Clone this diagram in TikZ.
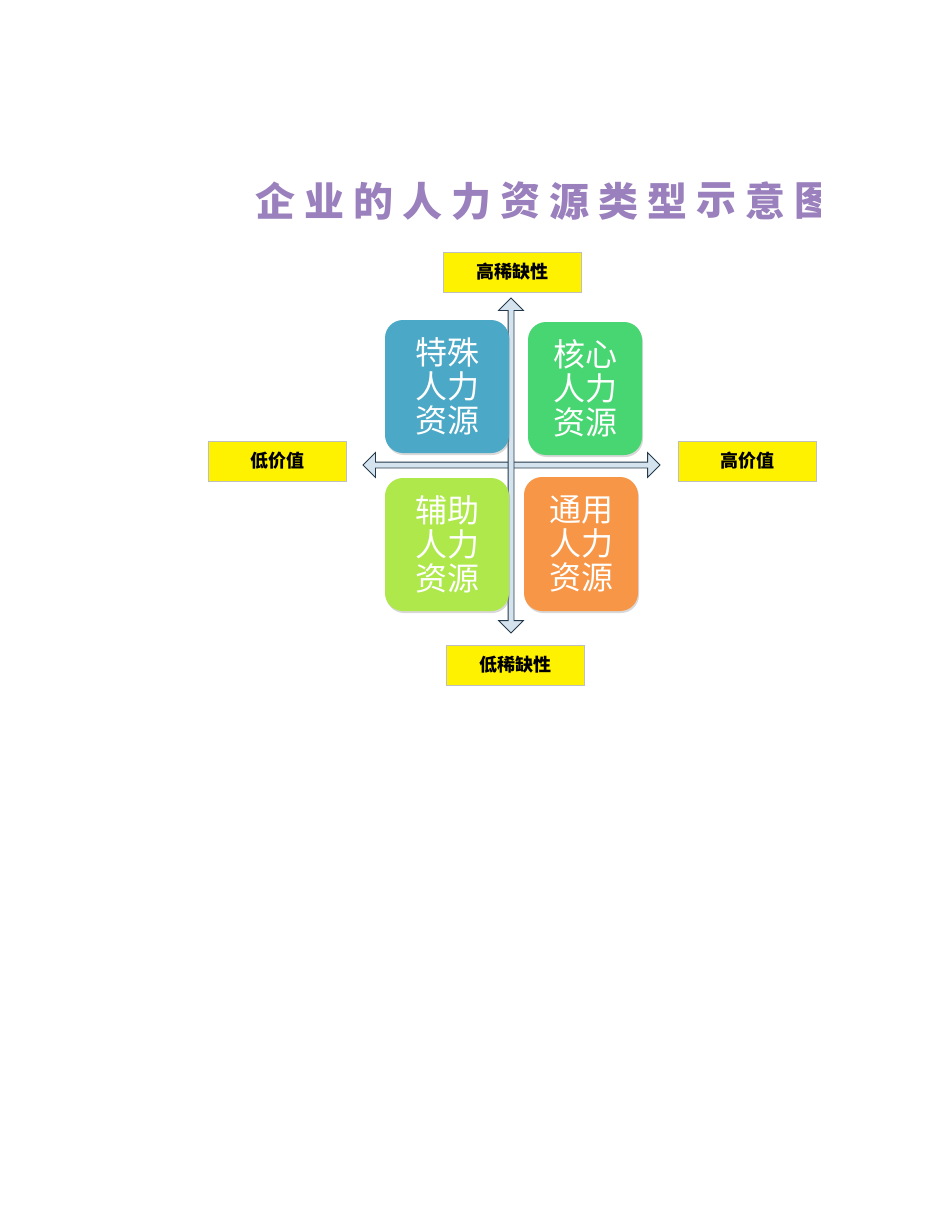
\documentclass[tikz,border=0pt]{standalone}
\usepackage{fontspec}
\newfontfamily\cjk{Noto Sans CJK SC}
\usetikzlibrary{shapes,shadows,arrows}

\definecolor{titlepurple}{HTML}{9A80BC}
\definecolor{axisfill}{HTML}{D5E3EE}
\definecolor{axisline}{HTML}{243A4C}
\definecolor{specialblue}{HTML}{4BA8C6}
\definecolor{coregreen}{HTML}{48D672}
\definecolor{supportlime}{HTML}{AEE84A}
\definecolor{generalorange}{HTML}{F79646}

\begin{document}
\begin{tikzpicture}[x=1pt,y=-1pt,
    titlechar/.style={text=titlepurple,font=\cjk\bfseries\fontsize{40}{44}\selectfont,inner sep=0pt},
    labelbox/.style={draw=black!25,fill=yellow,minimum width=138pt,minimum height=40pt,inner sep=0pt,
      font=\cjk\bfseries\fontsize{18}{20}\selectfont},
    axis/.style={double arrow,draw=axisline,fill=axisfill,line width=0.8pt,inner sep=2.5pt,
      double arrow head extend=9.5pt,double arrow tip angle=90},
    kindbox/.style={rounded corners=18pt,minimum width=124pt,minimum height=133pt,inner sep=0pt,
      text=white,align=center,font=\cjk\fontsize{32}{34}\selectfont,
      drop shadow={opacity=0.3,shadow xshift=1pt,shadow yshift=-2pt}}]

  \useasboundingbox[fill=white] (0,0) rectangle (950,1230);

  % title, cut off at the right
  \begin{scope}
    \clip (0,150) rectangle (820,250);
    \foreach \c [count=\i from 0] in {企,业,的,人,力,资,源,类,型,示,意,图}
      \node[titlechar] (t\i) at (275+49*\i,201) {\c};
  \end{scope}

  % axes
  \node[axis,minimum height=297pt] (haxis) at (511.5,465) {};
  \node[axis,minimum height=335pt,shape border rotate=90] (vaxis) at (511,465.5) {};

  % quadrants
  \node[kindbox,fill=specialblue] (special) at (447,386.5) {特殊\\人力\\资源};
  \node[kindbox,fill=coregreen,minimum width=114pt] (core) at (585,388.5) {核心\\人力\\资源};
  \node[kindbox,fill=supportlime] (support) at (447,544.5) {辅助\\人力\\资源};
  \node[kindbox,fill=generalorange,minimum width=114pt,minimum height=134pt] (general) at (581,544) {通用\\人力\\资源};

  % axis labels
  \node[labelbox] (highscarce) at (512,272) {高稀缺性};
  \node[labelbox] (lowscarce) at (515,665) {低稀缺性};
  \node[labelbox] (lowvalue) at (277,461) {低价值};
  \node[labelbox] (highvalue) at (747,461) {高价值};

\end{tikzpicture}
\end{document}
